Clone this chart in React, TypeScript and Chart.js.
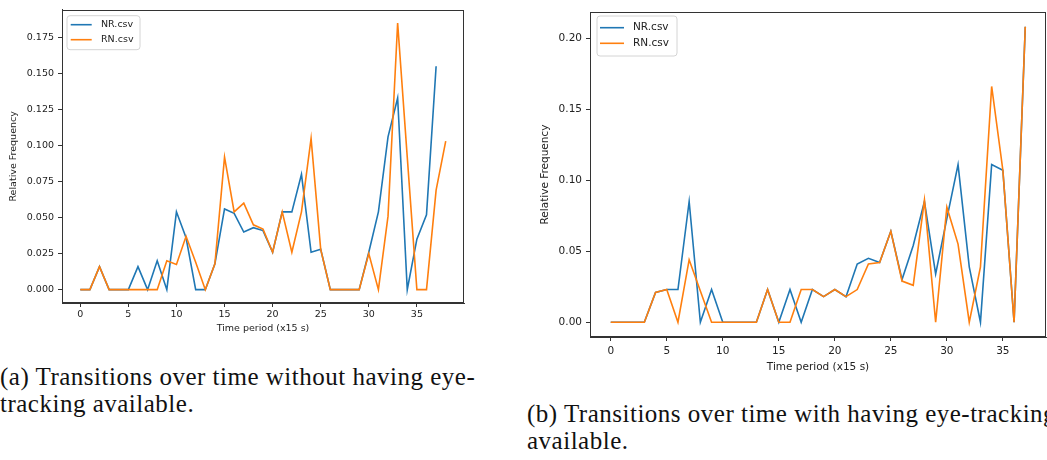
import React, { useEffect, useRef } from "react";
import { Chart, registerables } from "chart.js";

Chart.register(...registerables);

// ---------- data ----------
const xTicks = [0, 5, 10, 15, 20, 25, 30, 35];

// (a) without eye-tracking
const nrA = [0, 0, 0.016, 0, 0, 0, 0.016, 0, 0.02, 0,
  0.054, 0.036, 0, 0, 0.018, 0.056, 0.053, 0.04, 0.043, 0.041,
  0.026, 0.054, 0.054, 0.08, 0.026, 0.028, 0, 0, 0, 0,
  0.026, 0.054, 0.106, 0.133, 0, 0.035, 0.052, 0.155];
const rnA = [0, 0, 0.016, 0, 0, 0, 0, 0, 0, 0.02,
  0.0175, 0.037, 0.019, 0, 0.018, 0.092, 0.054, 0.06, 0.045, 0.042,
  0.026, 0.054, 0.026, 0.054, 0.105, 0.028, 0, 0, 0, 0,
  0.025, 0, 0.051, 0.185, 0.092, 0, 0, 0.069, 0.103];
const yTicksA = [0, 0.025, 0.05, 0.075, 0.1, 0.125, 0.15, 0.175];

// (b) with eye-tracking
const nrB = [0, 0, 0, 0, 0.021, 0.023, 0.023, 0.085, 0, 0.023,
  0, 0, 0, 0, 0.023, 0, 0.023, 0, 0.023, 0.018,
  0.023, 0.018, 0.041, 0.045, 0.042, 0.064, 0.03, 0.054, 0.085, 0.034,
  0.073, 0.111, 0.039, 0, 0.111, 0.107, 0, 0.208];
const rnB = [0, 0, 0, 0, 0.021, 0.023, 0, 0.044, 0.022, 0,
  0, 0, 0, 0, 0.023, 0, 0, 0.023, 0.023, 0.018,
  0.023, 0.018, 0.023, 0.041, 0.042, 0.064, 0.029, 0.026, 0.086, 0,
  0.081, 0.055, 0, 0.039, 0.166, 0.107, 0, 0.208];
const yTicksB = [0, 0.05, 0.1, 0.15, 0.2];

const seriesLabels = ["NR.csv", "RN.csv"];
const seriesColors = ["#1f77b4", "#ff7f0e"];
const xTitle = "Time period (x15 s)";
const yTitle = "Relative Frequency";

const FONT = '"DejaVu Sans", sans-serif';

type Cfg = {
  nr: number[];
  rn: number[];
  yTicks: number[];
  decimals: number;
  xMin: number; xMax: number; yMin: number; yMax: number;
  width: number; height: number;
  yAxisW: number; xAxisH: number;
  pad: { left: number; top: number; right: number; bottom: number };
  fs: number;
  xTitlePadB: number; yTitlePadT: number; xTickPad: number; yTickPad: number;
  leg: { dx: number; dy: number; w: number; h: number; l0: number; l1: number; tx: number; y0: number; y1: number };
};

const framePlugin = {
  id: "frameLegend",
  afterDatasetsDraw(chart: any, _args: any, opts: any) {
    const { ctx, chartArea: a } = chart;
    ctx.save();
    ctx.strokeStyle = "#333";
    ctx.lineWidth = 1;
    ctx.strokeRect(Math.round(a.left) + 0.5, Math.round(a.top) + 0.5,
      Math.round(a.right - a.left) - 1, Math.round(a.bottom - a.top) - 1);
    const L = opts.leg;
    if (L) {
      const x = a.left + L.dx, y = a.top + L.dy;
      const r = 3;
      ctx.beginPath();
      ctx.moveTo(x + r, y);
      ctx.lineTo(x + L.w - r, y);
      ctx.quadraticCurveTo(x + L.w, y, x + L.w, y + r);
      ctx.lineTo(x + L.w, y + L.h - r);
      ctx.quadraticCurveTo(x + L.w, y + L.h, x + L.w - r, y + L.h);
      ctx.lineTo(x + r, y + L.h);
      ctx.quadraticCurveTo(x, y + L.h, x, y + L.h - r);
      ctx.lineTo(x, y + r);
      ctx.quadraticCurveTo(x, y, x + r, y);
      ctx.closePath();
      ctx.fillStyle = "rgba(255,255,255,0.85)";
      ctx.fill();
      ctx.strokeStyle = "#d4d4d4";
      ctx.lineWidth = 1;
      ctx.stroke();
      chart.data.datasets.forEach((ds: any, i: number) => {
        const yy = a.top + (i === 0 ? L.y0 : L.y1);
        ctx.strokeStyle = ds.borderColor;
        ctx.lineWidth = 1.6;
        ctx.beginPath();
        ctx.moveTo(a.left + L.l0, yy);
        ctx.lineTo(a.left + L.l1, yy);
        ctx.stroke();
        ctx.fillStyle = "#222";
        ctx.font = `${opts.fs}px ${FONT}`;
        ctx.textBaseline = "middle";
        ctx.textAlign = "left";
        ctx.fillText(ds.label, a.left + L.tx, yy);
      });
    }
    ctx.restore();
  },
};

function LineChart({ cfg, style }: { cfg: Cfg; style: React.CSSProperties }) {
  const ref = useRef<HTMLCanvasElement | null>(null);
  useEffect(() => {
    if (!ref.current) return;
    const font = { family: FONT, size: cfg.fs };
    const chart = new Chart(ref.current, {
      type: "line",
      data: {
        datasets: [cfg.nr, cfg.rn].map((arr, k) => ({
          label: seriesLabels[k],
          data: arr.map((v, i) => ({ x: i, y: v })),
          borderColor: seriesColors[k],
          backgroundColor: seriesColors[k],
          borderWidth: 1.6,
          pointRadius: 0,
          tension: 0,
          fill: false,
          order: k === 0 ? 1 : 0,
        })),
      },
      options: {
        responsive: false,
        animation: false,
        events: [],
        layout: { padding: cfg.pad },
        plugins: {
          legend: { display: false },
          tooltip: { enabled: false },
          frameLegend: { leg: cfg.leg, fs: cfg.fs },
        } as any,
        scales: {
          x: {
            type: "linear",
            min: cfg.xMin,
            max: cfg.xMax,
            afterBuildTicks: (s: any) => { s.ticks = xTicks.map((v) => ({ value: v })); },
            afterFit: (s: any) => { s.height = cfg.xAxisH; },
            grid: { display: true, drawOnChartArea: false, drawTicks: true, tickLength: 4, color: "#333" },
            border: { display: true, color: "#333" },
            ticks: { font, color: "#222", padding: cfg.xTickPad, autoSkip: false, maxRotation: 0, callback: (v: any) => String(v) },
            title: { display: true, text: xTitle, font, color: "#222", padding: { top: 0, bottom: cfg.xTitlePadB } },
          },
          y: {
            type: "linear",
            min: cfg.yMin,
            max: cfg.yMax,
            afterBuildTicks: (s: any) => { s.ticks = cfg.yTicks.map((v) => ({ value: v })); },
            afterFit: (s: any) => { s.width = cfg.yAxisW; },
            grid: { display: true, drawOnChartArea: false, drawTicks: true, tickLength: 4, color: "#333" },
            border: { display: true, color: "#333" },
            ticks: { font, color: "#222", padding: cfg.yTickPad, autoSkip: false, callback: (v: any) => Number(v).toFixed(cfg.decimals) },
            title: { display: true, text: yTitle, font, color: "#222", padding: { top: cfg.yTitlePadT, bottom: 0 } },
          },
        },
      },
      plugins: [framePlugin],
    } as any);
    return () => chart.destroy();
  }, [cfg]);
  return (
    <canvas
      ref={ref}
      width={cfg.width}
      height={cfg.height}
      style={{ position: "absolute", width: cfg.width, height: cfg.height, ...style }}
    />
  );
}

const cfgA: Cfg = {
  nr: nrA, rn: rnA, yTicks: yTicksA, decimals: 3,
  xMin: -1.9, xMax: 39.9, yMin: -0.00925, yMax: 0.19425,
  width: 470, height: 345, yAxisW: 62, xAxisH: 40,
  pad: { left: 0, top: 9, right: 6, bottom: 2 },
  fs: 9.5, xTitlePadB: 8.3, yTitlePadT: 8.3, xTickPad: 2, yTickPad: 4,
  leg: { dx: 5, dy: 6, w: 73, h: 34, l0: 8.7, l1: 29.7, tx: 39, y0: 15, y1: 30 },
};

const cfgB: Cfg = {
  nr: nrB, rn: rnB, yTicks: yTicksB, decimals: 2,
  xMin: -1.85, xMax: 38.85, yMin: -0.0104, yMax: 0.2184,
  width: 527, height: 380, yAxisW: 70, xAxisH: 40,
  pad: { left: 0, top: 12, right: 1, bottom: 3 },
  fs: 10.5, xTitlePadB: 3.7, yTitlePadT: 18.7, xTickPad: 4, yTickPad: 4,
  leg: { dx: 7, dy: 4, w: 80, h: 40, l0: 10, l1: 34, tx: 43, y0: 15.7, y1: 31.3 },
};

const captionStyle: React.CSSProperties = {
  position: "absolute",
  fontFamily: '"Liberation Serif", "Times New Roman", serif',
  fontSize: 25,
  lineHeight: "27px",
  letterSpacing: "0.5px",
  whiteSpace: "nowrap",
  color: "#111",
};

export default function App() {
  return (
    <div style={{ position: "fixed", left: 0, top: 0, width: 1047, height: 460, overflow: "hidden", background: "#fff" }}>
      <LineChart cfg={cfgA} style={{ left: 0, top: 0 }} />
      <LineChart cfg={cfgB} style={{ left: 520, top: 0 }} />
      <div style={{ ...captionStyle, left: 0, top: 363 }}>
        (a) Transitions over time without having eye-<br />tracking available.
      </div>
      <div style={{ ...captionStyle, left: 527, top: 400 }}>
        (b) Transitions over time with having eye-tracking<br />available.
      </div>
    </div>
  );
}
